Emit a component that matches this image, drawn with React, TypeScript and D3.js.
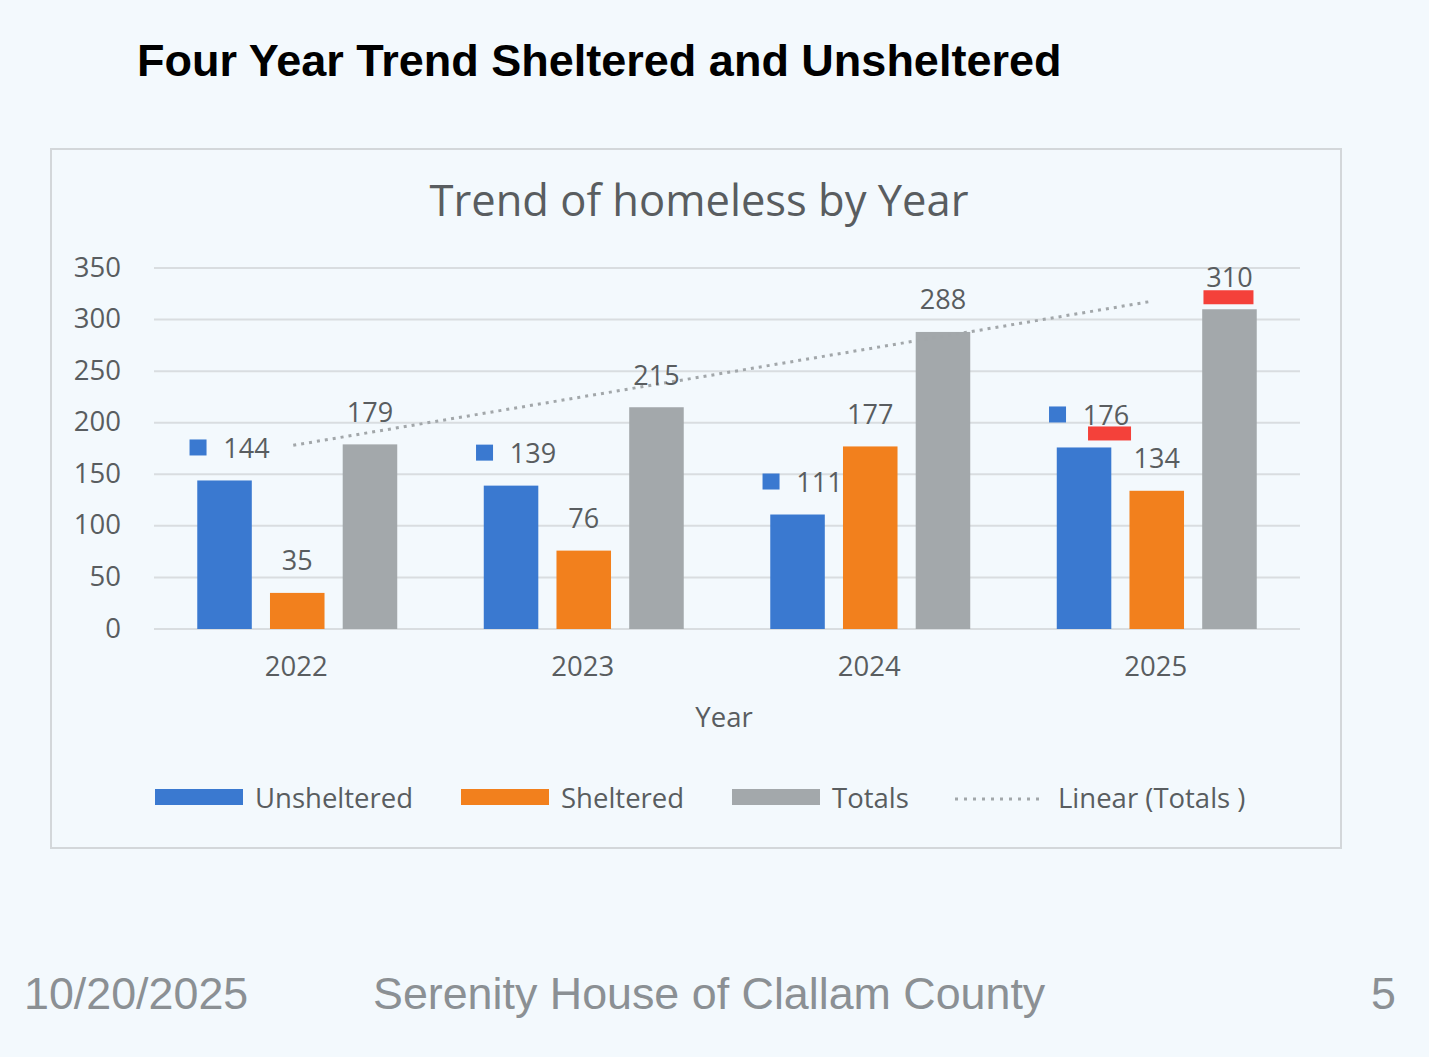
import React from "react";
import * as d3 from "d3";

const years = ["2022", "2023", "2024", "2025"];
const unsheltered = [144, 139, 111, 176];
const sheltered = [35, 76, 177, 134];
const totals = [179, 215, 288, 310];
const seriesNames = ["Unsheltered", "Sheltered", "Totals"];
const seriesColors = ["#3a79d0", "#f2801d", "#a3a8ab"];
const yTicks = [0, 50, 100, 150, 200, 250, 300, 350];
const legendLabels = ["Unsheltered", "Sheltered", "Totals", "Linear (Totals )"];
const highlights = [
  { year: "2025", series: "Unsheltered" },
  { year: "2025", series: "Totals" },
];

const W = 1429;
const H = 1057;
const BG = "#f3f9fd";
const TXT = "#595d60";
const CHART_FONT = "'Open Sans', sans-serif";

export default function App() {
  const values: number[][] = [unsheltered, sheltered, totals];
  const plot = { left: 154, right: 1300, top: 268, bottom: 629 };

  const y = d3.scaleLinear().domain([0, 350]).range([plot.bottom, plot.top]);
  const x = d3
    .scaleBand<string>()
    .domain(years)
    .range([plot.left, plot.right])
    .paddingInner(0.302)
    .paddingOuter(0.151);
  const xs = d3
    .scaleBand<string>()
    .domain(seriesNames)
    .range([0, x.bandwidth()])
    .paddingInner(0.25);

  // linear trend of totals
  const idx = totals.map((_, i) => i + 1);
  const mx = d3.mean(idx) as number;
  const my = d3.mean(totals) as number;
  const slope =
    d3.sum(idx.map((v, i) => (v - mx) * (totals[i] - my))) /
    d3.sum(idx.map((v) => (v - mx) * (v - mx)));
  const icpt = my - slope * mx;
  const trendPts: [number, number][] = years.map((yr, i) => [
    (x(yr) as number) + x.bandwidth() / 2 - 4,
    y(icpt + slope * (i + 1)),
  ]);
  const line = d3.line();

  const labelOffset = 33;

  const legendStarts = [155, 461, 732, 955];
  const legendY = 797;

  return (
    <svg
      width={W}
      height={H}
      style={{ position: "absolute", left: 0, top: 0, display: "block" }}
    >
      <rect x={0} y={0} width={W} height={H} fill={BG} />
      <text
        x={137}
        y={76}
        fontFamily="'Liberation Sans', Arial, sans-serif"
        fontWeight="bold"
        fontSize={45}
        fill="#000"
      >
        Four Year Trend Sheltered and Unsheltered
      </text>

      {/* chart frame */}
      <rect
        x={51}
        y={149}
        width={1290}
        height={699}
        fill={BG}
        stroke="#d3d7da"
        strokeWidth={2}
      />
      <text
        x={699}
        y={216}
        textAnchor="middle"
        fontFamily={CHART_FONT}
        fontSize={43.5}
        fill={TXT}
      >
        Trend of homeless by Year
      </text>

      {/* gridlines and y ticks */}
      {yTicks.map((t) => (
        <g key={t}>
          <line
            x1={plot.left}
            x2={plot.right}
            y1={y(t)}
            y2={y(t)}
            stroke="#d9dde0"
            strokeWidth={2}
          />
          <text
            x={121}
            y={y(t) - 2}
            textAnchor="end"
            dominantBaseline="central"
            fontFamily={CHART_FONT}
            fontSize={27.5}
            fill={TXT}
          >
            {t}
          </text>
        </g>
      ))}

      {/* bars */}
      {years.map((yr, i) => (
        <g key={yr} transform={`translate(${x(yr)},0)`}>
          {seriesNames.map((s, j) => (
            <rect
              key={s}
              x={xs(s)}
              y={y(values[j][i])}
              width={xs.bandwidth()}
              height={y(0) - y(values[j][i])}
              fill={seriesColors[j]}
            />
          ))}
        </g>
      ))}

      {/* trendline */}
      <path
        d={line(trendPts) as string}
        fill="none"
        stroke="#a2a7aa"
        strokeWidth={3}
        strokeDasharray="3 5"
      />

      {/* data labels */}
      {years.map((yr, i) =>
        seriesNames.map((s, j) => {
          const cx = (x(yr) as number) + (xs(s) as number) + xs.bandwidth() / 2;
          const cy = y(values[j][i]) - labelOffset;
          const isHi = highlights.some((h) => h.year === yr && h.series === s);
          if (j === 0) {
            const tx = cx + 22;
            return (
              <g key={yr + s}>
                <rect x={cx - 35} y={cy - 8} width={17} height={16} fill={seriesColors[0]} />
                <text
                  x={tx}
                  y={cy}
                  textAnchor="middle"
                  dominantBaseline="central"
                  fontFamily={CHART_FONT}
                  fontSize={27}
                  fill={TXT}
                >
                  {values[j][i]}
                </text>
                {isHi && (
                  <rect x={tx - 18} y={cy + 12} width={43} height={14} fill="#f4413a" />
                )}
              </g>
            );
          }
          return (
            <g key={yr + s}>
              <text
                x={cx}
                y={cy}
                textAnchor="middle"
                dominantBaseline="central"
                fontFamily={CHART_FONT}
                fontSize={27}
                fill={TXT}
              >
                {values[j][i]}
              </text>
              {isHi && (
                <rect x={cx - 26} y={cy + 14} width={50} height={14} fill="#f4413a" />
              )}
            </g>
          );
        })
      )}

      {/* x axis labels */}
      {years.map((yr) => (
        <text
          key={yr}
          x={(x(yr) as number) + x.bandwidth() / 2 - 1}
          y={665}
          textAnchor="middle"
          dominantBaseline="central"
          fontFamily={CHART_FONT}
          fontSize={27.5}
          fill={TXT}
        >
          {yr}
        </text>
      ))}
      <text
        x={724}
        y={716}
        textAnchor="middle"
        dominantBaseline="central"
        fontFamily={CHART_FONT}
        fontSize={27.5}
        fill={TXT}
      >
        Year
      </text>

      {/* legend */}
      {legendLabels.map((lab, k) => {
        const sx = legendStarts[k];
        return (
          <g key={lab}>
            {k < 3 ? (
              <rect x={sx} y={legendY - 8} width={88} height={16} fill={seriesColors[k]} />
            ) : (
              <line
                x1={sx}
                x2={sx + 90}
                y1={legendY + 2}
                y2={legendY + 2}
                stroke="#a2a7aa"
                strokeWidth={3}
                strokeDasharray="3 6"
              />
            )}
            <text
              x={sx + (k < 3 ? 100 : 103)}
              y={legendY}
              dominantBaseline="central"
              fontFamily={CHART_FONT}
              fontSize={27.5}
              fill={TXT}
            >
              {lab}
            </text>
          </g>
        );
      })}

      {/* footer */}
      <text
        x={24}
        y={1009}
        fontFamily="'Liberation Sans', Arial, sans-serif"
        fontSize={44.8}
        fill="#8b9094"
      >
        10/20/2025
      </text>
      <text
        x={373}
        y={1009}
        fontFamily="'Liberation Sans', Arial, sans-serif"
        fontSize={44.8}
        fill="#8b9094"
      >
        Serenity House of Clallam County
      </text>
      <text
        x={1396}
        y={1009}
        textAnchor="end"
        fontFamily="'Liberation Sans', Arial, sans-serif"
        fontSize={44.8}
        fill="#8b9094"
      >
        5
      </text>
    </svg>
  );
}
